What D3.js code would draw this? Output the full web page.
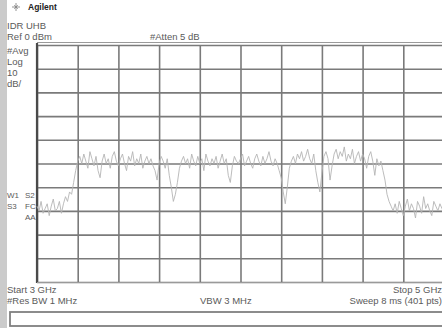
<!DOCTYPE html>
<html>
<head>
<meta charset="utf-8">
<script src="https://cdn.jsdelivr.net/npm/d3@7"></script>
<style>
  html, body { margin: 0; padding: 0; background: #fff; }
  svg { display: block; }
  text { font-family: "Liberation Sans", Arial, sans-serif; fill: #5a5a5a; }
</style>
</head>
<body>
<svg id="chart" width="442" height="328"></svg>
<script>
// Sweep settings (GHz, dBm)
const startGHz = 3;
const stopGHz = 5;
const stepGHz = 0.01;
const refLevel = 0;       // dBm at top graticule
const dbPerDiv = 10;
const divisions = 10;

// Averaged trace, dBm, one value per 10 MHz from 3 GHz
const traceDbm = [
  -68,-70,-66,-71,-69,-67,-72,-68,-65,-70,-69,-66,-71,-67,-64,-66,-62,-63,-58,
  -53,-49,
  -47,-50,-46,-49,-52,-45,-48,-51,-47,-53,-56,-49,-46,-50,-48,-52,-47,-45,-49,-51,
  -48,-46,-50,-53,-47,-49,-45,-51,-48,-50,-46,-52,-49,-47,-50,
  -48,-51,-53,-57,-50,-47,-49,-52,-48,-55,-60,-66,-63,-58,-52,
  -49,-47,-50,-48,-52,-46,-49,-51,-47,-50,-48,-53,-46,-49,-51,-48,-50,-47,-52,-49,
  -46,-50,-48,-55,-58,-51,-47,-49,-50,-48,-46,-51,-49,-47,-50,-52,-48,-46,-49,-51,
  -47,-50,-48,-45,-49,-51,-48,-50,-53,-56,
  -62,-67,-60,
  -52,-49,-47,-50,-46,-48,-45,-49,-47,-44,-48,-50,-46,-53,-58,-62,-54,-47,-45,-48,
  -57,-51,-46,-44,-48,-45,-47,-43,-49,-46,-48,-44,-50,-47,-45,-49,-46,-48,-52,-47,
  -45,-49,-55,-48,-51,-49,-53,-57,
  -63,-66,-68,
  -70,-67,-71,-66,-69,-72,-68,-65,-70,-67,-69,-73,-66,-68,-71,-64,-69,-67,-70,-72,
  -66,-68,-70,-67,-69,-71
];

// Annotation text
const headerLines = ["IDR UHB", "Ref 0 dBm"];
const attenLabel = "#Atten 5 dB";
const scaleLabels = ["#Avg", "Log", "10", "dB/"];
const flagLabels = [["W1", "S2"], ["S3", "FC"], ["", "AA"]];
const footerLeft = ["Start 3 GHz", "#Res BW 1 MHz"];
const footerMid = "VBW 3 MHz";
const footerRight = ["Stop 5 GHz", "Sweep 8 ms (401 pts)"];

const svg = d3.select("#chart");
const W = 442, H = 328;
const plot = { left: 37, top: 45, right: 444, bottom: 282 };

const x = d3.scaleLinear().domain([startGHz, stopGHz]).range([plot.left, plot.right]);
const y = d3.scaleLinear().domain([refLevel - dbPerDiv * divisions, refLevel]).range([plot.bottom, plot.top]);

// left bezel strip
svg.append("rect").attr("x", 0).attr("y", 0).attr("width", 7).attr("height", H).attr("fill", "#cbcbcb");

// graticule via axes with full-length ticks
const xTicks = d3.range(divisions + 1).map(i => startGHz + i * (stopGHz - startGHz) / divisions);
const yTicks = d3.range(divisions + 1).map(i => refLevel - i * dbPerDiv);

const gx = svg.append("g")
  .attr("transform", `translate(0,${plot.bottom})`)
  .call(d3.axisBottom(x).tickValues(xTicks).tickSize(-(plot.bottom - plot.top)).tickFormat(""));
const gy = svg.append("g")
  .attr("transform", `translate(${plot.left},0)`)
  .call(d3.axisLeft(y).tickValues(yTicks).tickSize(-(plot.right - plot.left)).tickFormat(""));
[gx, gy].forEach(g => {
  g.select(".domain").remove();
  g.selectAll(".tick line").attr("stroke", "#7a7a7a").attr("stroke-width", 1.6);
});
// heavier left edge and doubled top/bottom edges
svg.append("line").attr("x1", plot.left).attr("x2", plot.left).attr("y1", plot.top - 2).attr("y2", plot.bottom + 1)
  .attr("stroke", "#4a4a4a").attr("stroke-width", 2.2);
[plot.top - 2.5, plot.bottom + 0.5].forEach(yy => {
  svg.append("line").attr("x1", plot.left).attr("x2", W).attr("y1", yy).attr("y2", yy)
    .attr("stroke", "#9a9a9a").attr("stroke-width", 1.2);
});

// trace
const line = d3.line()
  .x((d, i) => x(startGHz + i * stepGHz))
  .y(d => y(d));
svg.append("path").datum(traceDbm)
  .attr("d", line)
  .attr("fill", "none")
  .attr("stroke", "#b4b4b4")
  .attr("stroke-width", 0.9);

// logo
const logo = svg.append("g").attr("transform", "translate(16,7)");
d3.range(8).forEach(k => {
  const a = k * Math.PI / 4;
  const r = k % 2 ? 2.5 : 4;
  logo.append("line").attr("x1", 0).attr("y1", 0)
    .attr("x2", r * Math.cos(a)).attr("y2", r * Math.sin(a))
    .attr("stroke", "#888").attr("stroke-width", 0.9);
});
svg.append("text").attr("x", 28).attr("y", 10).text("Agilent")
  .style("font-size", "8.5px").style("font-weight", "bold").style("fill", "#222");

const fs = "9.5px";
headerLines.forEach((t, i) => {
  svg.append("text").attr("x", 7).attr("y", 28.5 + i * 11).text(t).style("font-size", fs);
});
svg.append("text").attr("x", 150).attr("y", 39.5).text(attenLabel).style("font-size", fs);

scaleLabels.forEach((t, i) => {
  svg.append("text").attr("x", 7).attr("y", 53.5 + i * 11).text(t).style("font-size", fs);
});
// flag column uses a slightly smaller face so the pairs fit left of the graticule
flagLabels.forEach((pair, i) => {
  svg.append("text").attr("x", 7).attr("y", 198 + i * 11).text(pair[0]).style("font-size", "8px");
  svg.append("text").attr("x", 25).attr("y", 198 + i * 11).text(pair[1]).style("font-size", "8px");
});

footerLeft.forEach((t, i) => {
  svg.append("text").attr("x", 7).attr("y", 292.5 + i * 11).text(t).style("font-size", fs);
});
svg.append("text").attr("x", 200).attr("y", 303.5).text(footerMid).style("font-size", fs);
footerRight.forEach((t, i) => {
  svg.append("text").attr("x", 442).attr("y", 292.5 + i * 11).attr("text-anchor", "end").text(t).style("font-size", fs);
});

// status box
svg.append("rect").attr("x", 10).attr("y", 312).attr("width", 440).attr("height", 14)
  .attr("fill", "#fff").attr("stroke", "#808080").attr("stroke-width", 1.8);
</script>
</body>
</html>
